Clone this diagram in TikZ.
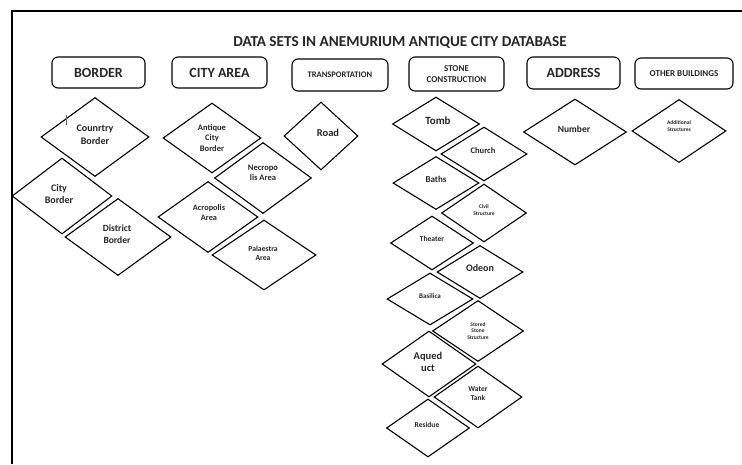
\documentclass[tikz,border=0pt]{standalone}
\usepackage{fontspec}
\setmainfont{Carlito}
\usetikzlibrary{shapes.geometric}

% fs: font size (pt) with a tight line spacing
\newcommand\fs[1]{\fontsize{#1}{\fpeval{1.2*#1}}\selectfont}

% \dmd{name}{x}{y}{width}{height}{text x}{text y}{font size}{text}
\newcommand\dmd[9]{%
  \node[dmdbox, minimum width=#4pt, minimum height=#5pt] (#1) at (#2,#3) {};
  \node[lbl, font=\bfseries\fs{#8}] (#1-t) at (#6,#7) {#9};}

% \hdr{name}{x1}{y1}{x2}{y2}{font size}{text}
\newcommand\hdr[7]{%
  \node[hdrbox, font=\bfseries\fs{#6}, minimum width=\fpeval{#4-#2}pt,
    minimum height=\fpeval{#5-#3}pt] (#1) at ({(#2+#4)/2},{(#3+#5)/2}) {#7};}

\begin{document}
\begin{tikzpicture}[x=1pt,y=-1pt,
  dmdbox/.style={draw, diamond, inner sep=0pt, line width=1.1pt, line join=miter},
  lbl/.style={inner sep=0pt, align=center, text=black!85},
  hdrbox/.style={draw, rounded corners=6pt, inner sep=0pt, line width=1.1pt,
    align=center, text=black!85},
  frameline/.style={line width=1.4pt}]
\useasboundingbox[fill=white] (0,0) rectangle (742,464);

% outer frame (only top and left edges fall inside the page)
\coordinate (fbl) at (12,464);
\coordinate (ftl) at (12,11);
\coordinate (ftr) at (742,11);
\draw[frameline] (fbl) -- (ftl) -- (ftr);

% title
\node[lbl, font=\bfseries\fs{15.2}] (title) at (400,42) {DATA SETS IN ANEMURIUM ANTIQUE CITY DATABASE};

% category headers
\hdr{border}{52}{57}{145}{88}{14}{BORDER}
\hdr{cityarea}{172}{57}{267}{88}{14}{CITY AREA}
\hdr{transport}{292}{59}{388}{91}{8.5}{TRANSPORTATION}
\hdr{stone}{409}{57}{504}{91}{9}{STONE\\[1pt]CONSTRUCTION}
\hdr{address}{527}{57}{620}{89}{14}{ADDRESS}
\hdr{other}{635}{58}{733}{89}{9}{OTHER BUILDINGS}

% border
\dmd{country}{95}{137}{108}{79}{95}{135}{10}{Counrtry\\[1pt]Border}
\dmd{cityb}{62}{196}{100}{76}{59}{194}{10}{City\\Border}
\dmd{district}{118}{237}{106}{77}{117}{234}{9.5}{District\\[1pt]Border}
\coordinate (tick1) at (66,115);
\coordinate (tick2) at (66,125);
\draw[black!60, line width=0.5pt] (tick1) -- (tick2);

% city area
\dmd{antique}{212}{138}{98}{70}{212}{138}{8.5}{Antique\\City\\Border}
\dmd{necro}{263}{178}{97}{71}{263}{173}{8.5}{Necropo\\lis Area}
\dmd{acro}{208}{217}{100}{71}{209}{213}{8.3}{Acropolis\\Area}
\dmd{palaestra}{264}{255}{104}{70}{263}{253}{7.7}{Palaestra\\Area}

% transportation
\dmd{road}{321}{136}{74}{68}{328}{133}{10.5}{Road}

% stone construction
\dmd{tomb}{436}{124}{87}{54}{438}{121}{11}{Tomb}
\dmd{church}{484}{154}{86}{54}{483}{151}{8.5}{Church}
\dmd{baths}{436}{183}{86}{53}{436}{179}{9}{Baths}
\dmd{civil}{484}{213}{85}{58}{484}{210}{5.5}{Civil\\Structure}
\dmd{theater}{432}{243}{83}{54}{432}{239}{7.5}{Theater}
\dmd{odeon}{480}{272}{86}{53}{480}{268}{10}{Odeon}
\dmd{basilica}{430}{299}{86}{52}{430}{296}{7}{Basilica}
\dmd{stored}{478}{331}{91}{61}{478}{331}{5.5}{Stored\\Stone\\Structure}
\dmd{aqueduct}{429}{364}{94}{66}{428}{362}{10.5}{Aqued\\uct}
\dmd{water}{478}{397}{88}{62}{478}{394}{7.5}{Water\\Tank}
\dmd{residue}{428}{428}{83}{58}{427}{425}{7.5}{Residue}

% address
\dmd{number}{575}{132}{103}{66}{574}{129}{9.5}{Number}

% other buildings
\dmd{additional}{679}{131}{94}{63}{679}{126}{5.5}{Additional\\Structures}
\end{tikzpicture}
\end{document}
